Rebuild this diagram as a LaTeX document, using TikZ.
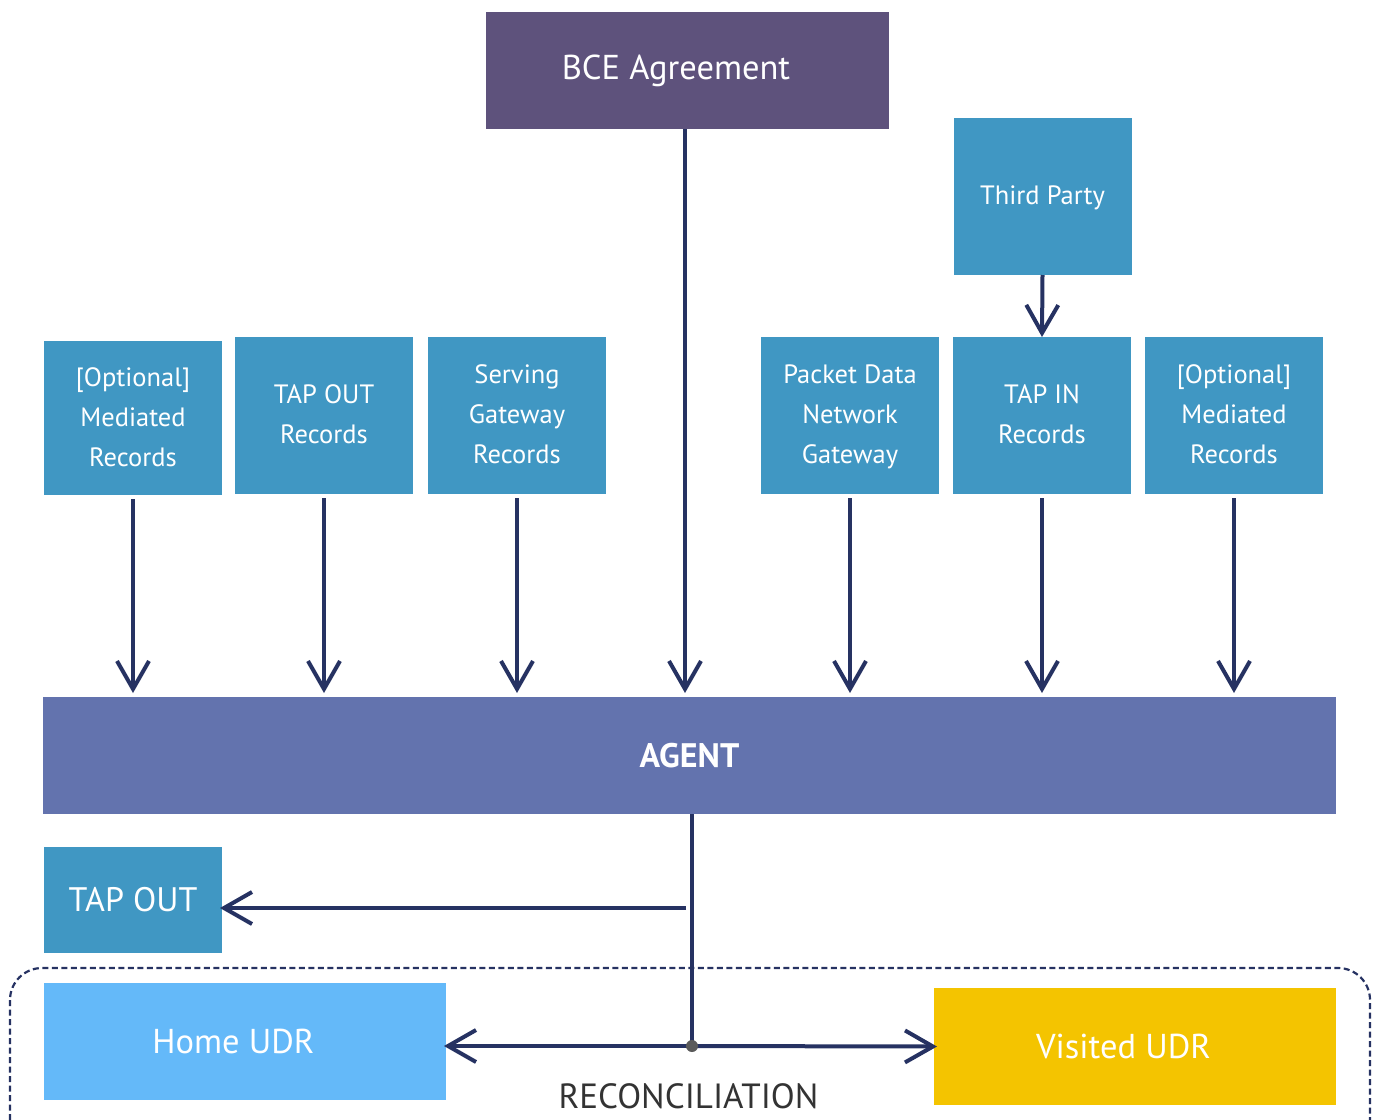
\documentclass[tikz,border=0pt]{standalone}
\usepackage{fontspec}
\setmainfont{PT Sans}
\usetikzlibrary{arrows.meta}
\definecolor{bcepurple}{HTML}{5E527C}
\definecolor{teal}{HTML}{4097C3}
\definecolor{agentblue}{HTML}{6373AE}
\definecolor{homeblue}{HTML}{64B9F9}
\definecolor{visitedyellow}{HTML}{F4C400}
\definecolor{navy}{HTML}{263262}
\definecolor{recongray}{HTML}{333333}
\definecolor{dotgray}{HTML}{5A5A5A}
\tikzset{
  box/.style={rectangle, inner sep=0pt, outer sep=0pt, text=white, align=center},
  srcbox/.style={box, fill=teal, minimum width=178pt, minimum height=157pt,
    font=\fontsize{26.5}{40}\selectfont},
  bigbox/.style={box, minimum width=402pt, minimum height=117pt,
    font=\fontsize{34.5}{40}\selectfont},
  arr/.style={draw=navy, line width=4pt,
    -{Straight Barb[length=28pt, width=32pt, line width=4pt]}},
  plain/.style={draw=navy, line width=4pt},
}
\begin{document}
\begin{tikzpicture}[x=1pt, y=-1pt]
\useasboundingbox (0,0) rectangle (1375,1119);
% dashed reconciliation frame
\begin{scope}
\clip (0,0) rectangle (1375,1119);
\draw[navy, line width=2.2pt, dash pattern=on 6pt off 3.5pt, rounded corners=32pt]
  (10,968) rectangle (1370,1160);
\end{scope}
% nodes
\node[bigbox, fill=bcepurple, minimum width=403pt]
  (bce) at (687.5,70.5) {\hspace*{-23pt}BCE Agreement};
\node[srcbox] (third) at (1042.5,196.5) {\strut Third Party};
\node[srcbox, minimum height=154pt] (m1) at (133,418) {\strut[Optional]\\Mediated\\Records\strut};
\node[srcbox] (tor) at (324,415.5) {\strut TAP OUT\\Records\strut};
\node[srcbox] (sgw) at (517,415.5) {\strut Serving\\Gateway\\Records\strut};
\node[srcbox] (pdn) at (850,415.5) {\strut Packet Data\\Network\\Gateway\strut};
\node[srcbox] (tin) at (1042,415.5) {\strut TAP IN\\Records\strut};
\node[srcbox] (m2) at (1234,415.5) {\strut[Optional]\\Mediated\\Records\strut};
\node[box, fill=agentblue, minimum width=1293pt, minimum height=117pt,
  font=\fontsize{34}{40}\selectfont\bfseries] (agent) at (689.5,755.5) {AGENT};
\node[box, fill=teal, minimum width=178pt, minimum height=106pt,
  font=\fontsize{34}{40}\selectfont] (tapout) at (133,900) {TAP OUT};
\node[bigbox, fill=homeblue] (home) at (245,1041.5) {\hspace*{-23pt}Home UDR};
\node[bigbox, fill=visitedyellow] (visited) at (1135,1046.5) {\hspace*{-23pt}Visited UDR};
\node[text=recongray, inner sep=0pt, font=\fontsize{35}{40}\selectfont]
  (recon) at (688.5,1096) {RECONCILIATION};
% connectors
\draw[arr] (third.south) -- (tin.north);
\foreach \n in {m1,tor,sgw,pdn,tin,m2}{
  \draw[arr, shorten <=4pt, shorten >=4pt] (\n.south) -- (\n.south |- agent.north);
}
\coordinate (bcex) at (685,0);
\draw[arr, shorten >=4pt] (bce.south -| bcex) -- (bcex |- agent.north);
\coordinate (j) at (692,1046);
\coordinate (t) at (686,908);
\draw[plain] (agent.south -| j) -- (j);
\draw[arr, shorten >=-2pt] (t) -- (t -| tapout.east);
\draw[arr, shorten >=-2pt] (j) -- (j -| home.east);
\draw[arr, shorten >=-3pt] (j) -- (visited.west);
\fill[dotgray] (j) circle (6pt);
\end{tikzpicture}
\end{document}
